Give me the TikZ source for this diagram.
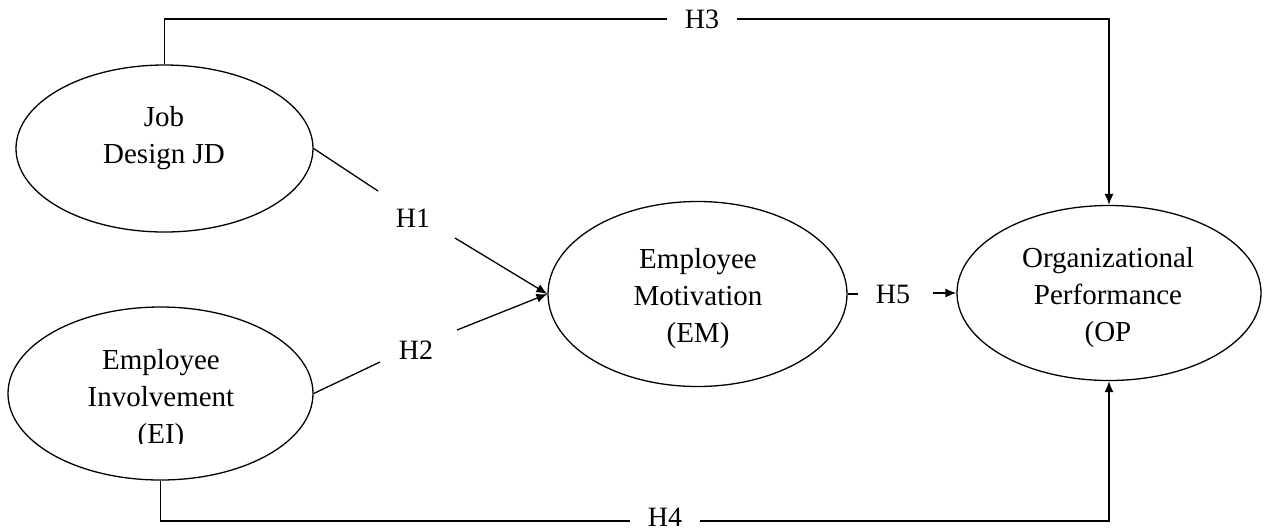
\documentclass[tikz,border=0pt]{standalone}
\usepackage{fontspec}
\setmainfont{Liberation Serif}
\usetikzlibrary{shapes.geometric,arrows.meta}
\tikzset{
  construct/.style={draw, ellipse, line width=1.3pt, inner sep=0pt},
  ctext/.style={align=center, inner sep=0pt, font=\fontsize{29}{37}\selectfont},
  hyp/.style={inner xsep=18pt, inner ysep=2pt, font=\fontsize{28}{34}\selectfont},
  link/.style={line width=1.3pt},
  arr/.style={line width=1.3pt, -{Latex[length=11pt,width=9pt]}}
}
\begin{document}
\begin{tikzpicture}[x=1pt,y=-1pt]
\useasboundingbox (0,0) rectangle (1276,531);

% constructs
\node[construct, minimum width=297pt, minimum height=167pt] (JD) at (164.5,148.5) {};
\node[construct, minimum width=305pt, minimum height=173pt] (EI) at (160.5,393.5) {};
\node[construct, minimum width=299pt, minimum height=185pt] (EM) at (697.5,294) {};
\node[construct, minimum width=304pt, minimum height=175pt] (OP) at (1109,293) {};

\node[ctext] (JDt) at (164,138) {Job\\Design JD};
\begin{scope}
  \clip (0,300) rectangle (330,443);
  \node[ctext] (EIt) at (161,400) {Employee\\Involvement\\(EI)};
\end{scope}
\node[ctext] (EMt) at (698,299) {Employee\\Motivation\\(EM)};
\node[ctext] (OPt) at (1108,298) {Organizational\\Performance\\(OP};

% hypothesis labels
\node[hyp] (H1) at (413,218) {H1};
\node[hyp] (H2) at (416,350) {H2};
\node[hyp] (H3) at (702,19) {H3};
\node[hyp] (H4) at (665,517) {H4};
\node[hyp] (H5) at (893,294) {H5};

% broken path ends
\coordinate (h1a) at (378,191);
\coordinate (h1b) at (455,238);
\coordinate (h2a) at (380,362);
\coordinate (h2b) at (457,330);
\coordinate (h5a) at (858,294);
\coordinate (h5b) at (933,293);
\coordinate (h4a) at ([yshift=-4pt]H4.west);
\coordinate (h4b) at ([yshift=-4pt]H4.east);

% H1, H2: antecedents to motivation
\draw[link] (JD.east) -- (h1a);
\draw[arr] (h1b) -- (EM.west);
\draw[link] (EI.east) -- (h2a);
\draw[arr] (h2b) -- (EM.west);

% H3, H4: direct paths to performance
\draw[link] (JD.north) |- (H3.west);
\draw[arr] (H3.east) -| (OP.north);
\draw[link] (EI.south) |- (h4a);
\draw[arr] (h4b) -| (OP.south);

% H5: motivation to performance
\draw[link] (EM.east) -- (h5a);
\draw[arr] (h5b) -- (OP.west);
\end{tikzpicture}
\end{document}
